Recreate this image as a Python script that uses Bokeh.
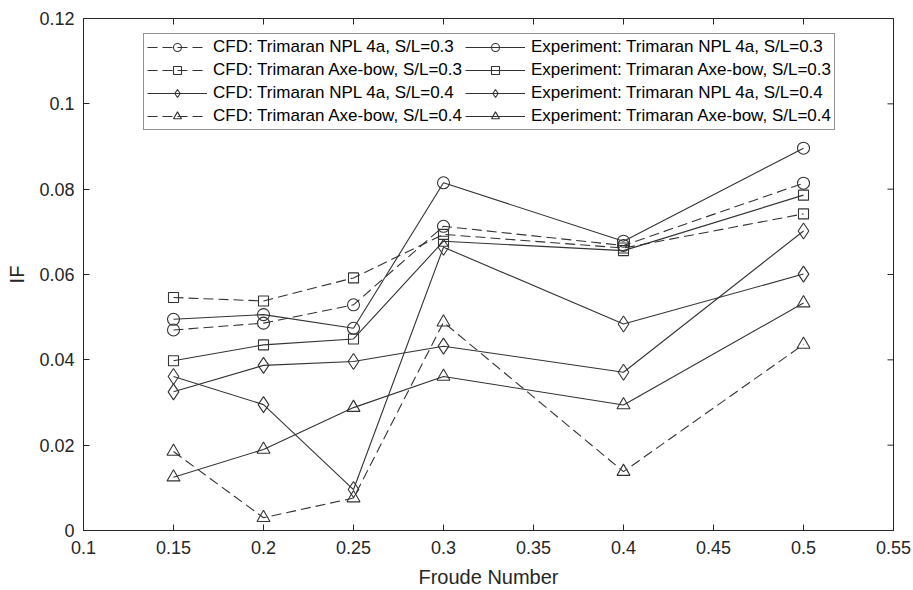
import math
from bokeh.plotting import figure
from bokeh.models import (Legend, LegendItem, FixedTicker,
                          NumeralTickFormatter, Range1d)
from bokeh.embed import file_html
from bokeh.resources import INLINE

# ---- data ----
froude = [0.15, 0.2, 0.25, 0.3, 0.4, 0.5]
cfd_npl_03 = [0.0470, 0.0486, 0.0529, 0.0713, 0.0668, 0.0814]
cfd_axe_03 = [0.0546, 0.0538, 0.0592, 0.0694, 0.0662, 0.0742]
cfd_npl_04 = [0.0361, 0.0295, 0.0096, 0.0664, 0.0484, 0.0601]
cfd_axe_04 = [0.0185, 0.0030, 0.0076, 0.0488, 0.0138, 0.0436]
exp_npl_03 = [0.0495, 0.0506, 0.0474, 0.0815, 0.0678, 0.0896]
exp_axe_03 = [0.0398, 0.0435, 0.0449, 0.0678, 0.0656, 0.0786]
exp_npl_04 = [0.0325, 0.0387, 0.0396, 0.0432, 0.0371, 0.0702]
exp_axe_04 = [0.0125, 0.0190, 0.0288, 0.0361, 0.0294, 0.0533]

x_ticks = [0.1, 0.15, 0.2, 0.25, 0.3, 0.35, 0.4, 0.45, 0.5, 0.55]
y_ticks = [0, 0.02, 0.04, 0.06, 0.08, 0.1, 0.12]
x_min, x_max = 0.1, 0.55
y_min, y_max = 0.0, 0.12

series = [
    ("CFD: Trimaran NPL 4a, S/L=0.3", cfd_npl_03, "circle", "dashed"),
    ("CFD: Trimaran Axe-bow, S/L=0.3", cfd_axe_03, "square", "dashed"),
    ("CFD: Trimaran NPL 4a, S/L=0.4", cfd_npl_04, "diamond", "solid"),
    ("CFD: Trimaran Axe-bow, S/L=0.4", cfd_axe_04, "triangle", "dashed"),
    ("Experiment: Trimaran NPL 4a, S/L=0.3", exp_npl_03, "circle", "solid"),
    ("Experiment: Trimaran Axe-bow, S/L=0.3", exp_axe_03, "square", "solid"),
    ("Experiment: Trimaran NPL 4a, S/L=0.4", exp_npl_04, "diamond", "solid"),
    ("Experiment: Trimaran Axe-bow, S/L=0.4", exp_axe_04, "triangle", "solid"),
]

FONT = "Liberation Sans"
INK = "#262626"
LINE = "#333333"
SIZES = {"circle": 12, "square": 10, "diamond": 16, "triangle": 13}

p = figure(width=913, height=590, output_backend="svg", toolbar_location=None,
           x_range=Range1d(x_min, x_max), y_range=Range1d(y_min, y_max),
           min_border_left=83, min_border_right=20, min_border_top=18,
           min_border_bottom=60)
p.grid.visible = False
p.outline_line_color = INK
p.outline_line_width = 1
p.background_fill_color = "white"
p.border_fill_color = "white"

for ax in (p.xaxis[0], p.yaxis[0]):
    ax.major_tick_in = 6
    ax.major_tick_out = 0
    ax.minor_tick_in = 0
    ax.minor_tick_out = 0
    ax.axis_line_color = INK
    ax.major_tick_line_color = INK
    ax.major_label_text_font = FONT
    ax.major_label_text_font_size = "18px"
    ax.major_label_text_color = INK
    ax.axis_label_text_font = FONT
    ax.axis_label_text_font_size = "20px"
    ax.axis_label_text_font_style = "normal"
    ax.axis_label_text_color = INK
    ax.formatter = NumeralTickFormatter(format="0.[00]")

p.xaxis[0].ticker = FixedTicker(ticks=x_ticks)
p.yaxis[0].ticker = FixedTicker(ticks=y_ticks)
p.xaxis[0].axis_label = "Froude Number"
p.yaxis[0].axis_label = "IF"
p.xaxis[0].major_label_standoff = 10
p.xaxis[0].axis_label_standoff = 9
p.yaxis[0].major_label_standoff = 9
p.yaxis[0].axis_label_standoff = 8

# inward ticks on the top and right edges (box on); the half outside the
# frame is clipped away
p.scatter(x_ticks, [y_max] * len(x_ticks), marker="dash", size=12,
          angle=math.pi / 2, line_color=INK, line_width=1)
p.scatter([x_max] * len(y_ticks), y_ticks, marker="dash", size=12,
          line_color=INK, line_width=1)

items = []
for label, ys, marker, dash in series:
    lr = p.line(froude, ys, line_color=LINE, line_width=1.1,
                line_dash=("10 5" if dash == "dashed" else "solid"))
    sr = p.scatter(froude, ys, marker=marker, size=SIZES[marker],
                   line_color=LINE, line_width=1.1, fill_color=None)
    items.append(LegendItem(label=label, renderers=[lr, sr]))

legend = Legend(items=items, ncols=2, location=(60, 400),
                label_text_font=FONT, label_text_font_size="17px",
                label_text_color="#000000",
                glyph_width=60, glyph_height=20, label_height=20,
                label_standoff=6, spacing=3, padding=3, margin=0,
                border_line_color=INK, border_line_width=1,
                background_fill_color="white", background_fill_alpha=1)
p.add_layout(legend)

open("out.html", "w").write(file_html(p, INLINE))
